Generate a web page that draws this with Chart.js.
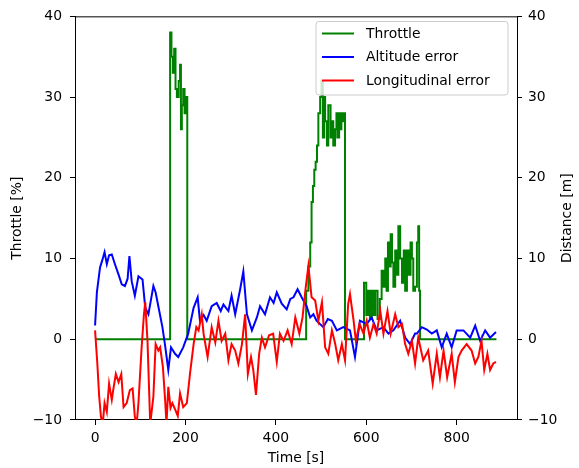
<!DOCTYPE html>
<html>
<head>
<meta charset="utf-8">
<script src="https://cdn.jsdelivr.net/npm/chart.js@4.4.0/dist/chart.umd.min.js"></script>
<style>
html,body{margin:0;padding:0;background:#fff;}
#wrap{width:579px;height:468px;position:relative;}
</style>
</head>
<body>
<div id="wrap"><canvas id="c"></canvas></div>
<script>
// ---- data ----
const xTicks = [0, 200, 400, 600, 800];
const yTicks = [-10, 0, 10, 20, 30, 40];

const throttleT = [0,166,169,172,175,178,181,185,188,190,192,195,198,200,204,
  467,472,476,479,482,485,488,491,494,498,501,504,507,509,513,516,521,524,527,531,534,536,540,542,545,548,550,553,
  595,600,604,608,612,616,620,625,630,634,638,642,645,648,651,654,657,660,664,667,671,675,679,683,686,690,694,698,701,704,708,712,715,717,719,888];
const throttleV = [0,38,35,33,36,31,30,32,34,26,29,31,28,30,0,
  6,9,12,17,19,21,22,24,28,30,32,25,30,27,24,29,25,27,24,26,28,25,28,26,28,27,28,0,
  7,3,6,2.5,6,3,6,2.5,5,8.5,6.5,10,6,12,9,13,9.5,6.5,11,8,14,10,7,11,6,11,8,12,10,6,6.5,12,14,6,0,0];

const altT = [0,4,11,16,21,26,31,37,44,52,59,66,72,76,81,88,96,105,111,118,124,129,134,142,149,155,162,168,177,184,195,206,218,227,232,240,247,258,269,278,284,295,302,310,321,328,336,347,358,365,376,387,395,402,413,424,432,439,448,457,468,476,483,490,505,515,524,535,549,564,575,586,601,612,623,638,649,660,675,686,697,708,712,723,734,745,756,767,778,789,800,815,830,841,852,863,874,887];
const altV = [1.7,5.8,8.9,9.8,10.8,9.3,10.4,10.5,9.3,8.0,6.8,6.6,7.5,10.3,7.2,5.4,7.8,7.4,3.9,3.1,5.0,6.6,5.8,3.5,1.5,-0.8,-3.8,-1.0,-1.8,-2.2,-1.0,0.7,3.9,5.2,2.3,3.0,2.3,4.1,4.5,3.5,4.3,3.5,5.4,3.1,6.2,8.4,3.1,1.1,2.7,4.1,3.1,5.2,4.5,5.8,4.4,3.7,5.0,5.2,6.2,5.2,4.1,2.7,3.1,2.3,1.5,2.5,2.3,1.1,1.5,1.1,-2.2,2.3,1.9,2.7,1.1,1.5,0.7,1.1,2.3,0.2,-0.6,0.7,0.7,1.5,1.2,0.7,1.1,-1.0,0.7,-1.0,1.1,1.1,0.2,1.7,-0.2,1.1,0.2,0.9];

const lonT = [0,5,9,13,17,21,26,31,37,41,46,52,58,63,70,77,83,88,92,96,103,108,111,116,122,129,134,140,144,150,155,158,162,167,171,178,183,188,195,203,210,218,224,229,236,240,249,258,266,273,280,288,295,302,310,317,325,332,338,345,350,356,363,369,376,385,394,402,409,417,426,435,443,452,459,466,472,479,487,494,502,509,516,524,531,538,546,553,560,564,572,577,585,594,601,608,616,623,631,638,647,654,664,671,679,686,693,701,708,715,726,737,747,756,763,771,779,789,796,804,811,822,833,841,848,855,861,868,874,881,887];
const lonV = [1.1,-3.0,-7.0,-9.6,-10.5,-7.9,-9.0,-5.5,-7.5,-6.0,-4.3,-5.3,-4.3,-8.4,-7.9,-6.3,-6.1,-9.6,-10.5,-7.9,-1.0,3.0,4.6,-0.2,-10.5,-7.1,-0.6,-1.4,-1.0,-3.4,-7.5,-10.5,-5.9,-8.5,-7.9,-8.8,-9.5,-6.7,-8.4,-7.9,-4.3,-0.6,1.5,1.1,3.1,0.7,-2.2,1.5,-0.4,2.3,-0.2,0.7,-2.6,-0.6,-1.4,-3.0,-0.6,3.1,-4.3,-2.2,-3.8,-6.9,-1.8,0.2,-1.0,0.5,0.7,-2.8,0.7,-0.2,1.1,-0.6,2.7,0.7,2.7,6.4,9.1,5.2,4.8,2.3,4.6,-1.0,-1.8,1.1,-0.5,-2.6,-0.6,-2.6,4.4,5.6,2.3,-0.2,1.9,0.7,2.3,0.2,1.9,0.7,3.5,0.7,3.5,0.7,3.1,1.5,1.9,-0.6,-1.8,-0.2,-3.0,0.2,-2.6,-1.4,-5.5,-1.8,-4.7,-1.4,-4.7,-1.8,-5.3,-2.2,-1.4,-0.6,-1.4,-3.0,-2.2,-0.2,-3.8,-1.8,-3.8,-3.0,-2.8];

const seriesNames = ['Throttle', 'Altitude error', 'Longitudinal error'];
const seriesColors = ['#008000', '#0000ff', '#ff0000'];
const rightTitle = 'Distance [m]';

// ---- helpers ----
const FONT = 'DejaVu Sans';
const FS = 13.9;
const pts = (t, v) => t.map((x, i) => ({x: x, y: v[i]}));
const fmt = v => (v < 0 ? '\u2212' + Math.abs(v) : String(v));

const framePlugin = {
  id: 'frame',
  afterDraw(chart) {
    const {ctx, chartArea: a} = chart;
    ctx.save();
    ctx.strokeStyle = '#000';
    ctx.lineWidth = 1;
    ctx.beginPath();
    ctx.moveTo(a.left, a.top + 0.5);
    ctx.lineTo(a.right, a.top + 0.5);
    ctx.stroke();
    // right axis title, reading upward
    ctx.font = FS + 'px "' + FONT + '"';
    ctx.fillStyle = '#000';
    ctx.textAlign = 'center';
    ctx.textBaseline = 'middle';
    ctx.translate(567, (a.top + a.bottom) / 2);
    ctx.rotate(-Math.PI / 2);
    ctx.fillText(rightTitle, 0, 0);
    ctx.setTransform(1, 0, 0, 1, 0, 0);
    // legend
    const bx = 316, by = 21.5, bw = 192, bh = 73.5, r = 3;
    ctx.beginPath();
    ctx.moveTo(bx + r, by);
    ctx.lineTo(bx + bw - r, by);
    ctx.quadraticCurveTo(bx + bw, by, bx + bw, by + r);
    ctx.lineTo(bx + bw, by + bh - r);
    ctx.quadraticCurveTo(bx + bw, by + bh, bx + bw - r, by + bh);
    ctx.lineTo(bx + r, by + bh);
    ctx.quadraticCurveTo(bx, by + bh, bx, by + bh - r);
    ctx.lineTo(bx, by + r);
    ctx.quadraticCurveTo(bx, by, bx + r, by);
    ctx.closePath();
    ctx.fillStyle = 'rgba(255,255,255,0.8)';
    ctx.fill();
    ctx.strokeStyle = '#cccccc';
    ctx.lineWidth = 1;
    ctx.stroke();
    ctx.textBaseline = 'middle';
    ctx.textAlign = 'left';
    const ys = [33.5, 57, 80.5];
    for (let i = 0; i < seriesNames.length; i++) {
      ctx.strokeStyle = seriesColors[i];
      ctx.lineWidth = 2;
      ctx.beginPath();
      ctx.moveTo(322, ys[i]);
      ctx.lineTo(354, ys[i]);
      ctx.stroke();
      ctx.fillStyle = '#000';
      ctx.fillText(seriesNames[i], 366, ys[i] + 0.5);
    }
    ctx.restore();
  }
};

const tickFont = {family: FONT, size: FS};
const grid = {display: true, drawOnChartArea: false, drawTicks: true, tickLength: 5, color: '#000', tickColor: '#000', lineWidth: 1};
const border = {display: true, color: '#000', width: 1};

new Chart(document.getElementById('c'), {
  type: 'line',
  data: {
    datasets: [
      {label: seriesNames[0], data: pts(throttleT, throttleV), yAxisID: 'y', borderColor: seriesColors[0], borderWidth: 2, pointRadius: 0, stepped: true, tension: 0, order: 3, clip: 0},
      {label: seriesNames[1], data: pts(altT, altV), yAxisID: 'y2', borderColor: seriesColors[1], borderWidth: 2, pointRadius: 0, tension: 0, order: 2, clip: 0},
      {label: seriesNames[2], data: pts(lonT, lonV), yAxisID: 'y2', borderColor: seriesColors[2], borderWidth: 2, pointRadius: 0, tension: 0, order: 1, clip: 0}
    ]
  },
  options: {
    responsive: true,
    maintainAspectRatio: false,
    animation: false,
    events: [],
    layout: {padding: {top: 14, left: 0, right: 0, bottom: 0}},
    plugins: {legend: {display: false}, tooltip: {enabled: false}},
    scales: {
      x: {
        type: 'linear', position: 'bottom', min: -44.4, max: 933.5,
        grid: grid, border: border,
        afterBuildTicks: s => { s.ticks = xTicks.map(v => ({value: v})); },
        afterFit: s => { s.height = 48; },
        ticks: {font: tickFont, color: '#000', padding: 5, autoSkip: false, maxRotation: 0, callback: v => fmt(v)},
        title: {display: true, text: 'Time [s]', font: tickFont, color: '#000', padding: {top: 0, bottom: 1.7}}
      },
      y: {
        type: 'linear', position: 'left', min: -10, max: 40,
        grid: grid, border: border,
        afterBuildTicks: s => { s.ticks = yTicks.map(v => ({value: v})); },
        afterFit: s => { s.width = 75; },
        ticks: {font: tickFont, color: '#000', padding: 8, callback: v => fmt(v)},
        title: {display: true, text: 'Throttle [%]', font: tickFont, color: '#000', padding: {top: 8.7, bottom: 0}}
      },
      y2: {
        type: 'linear', position: 'right', min: -10, max: 40,
        grid: grid, border: border,
        afterBuildTicks: s => { s.ticks = yTicks.map(v => ({value: v})); },
        afterFit: s => { s.width = 62; },
        ticks: {font: tickFont, color: '#000', padding: 6, callback: v => fmt(v)},
        title: {display: false}
      }
    }
  },
  plugins: [framePlugin]
});
</script>
</body>
</html>
